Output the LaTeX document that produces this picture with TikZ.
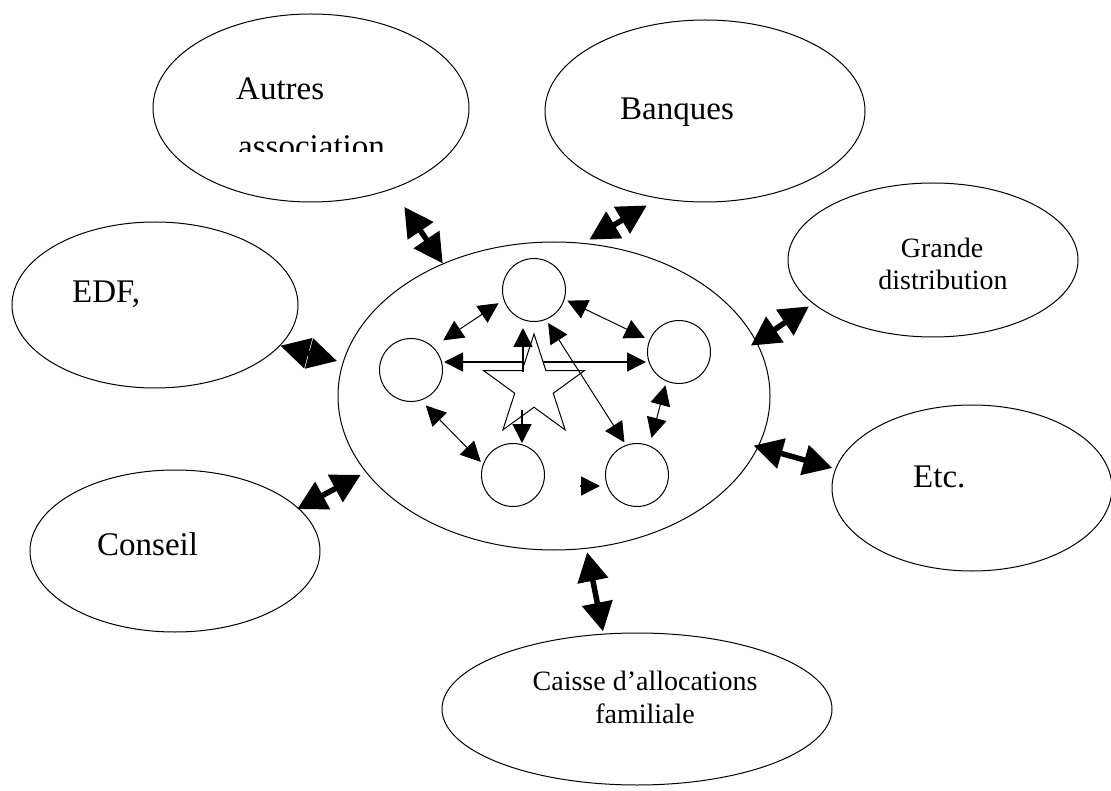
\documentclass[tikz,border=0pt]{standalone}
\usepackage{fontspec}
\setmainfont{Liberation Serif}
\usetikzlibrary{shapes.geometric,arrows.meta}

\begin{document}
\begin{tikzpicture}[x=1pt,y=-1pt,
  oval/.style={ellipse, draw, line width=1pt, inner sep=0pt},
  member/.style={circle, draw, line width=1pt, inner sep=0pt, minimum size=63pt},
  bigtext/.style={font=\fontsize{33}{38}\selectfont, inner sep=0pt},
  smalltext/.style={font=\fontsize{28}{33}\selectfont, inner sep=0pt, align=center},
  link/.style={line width=5.5pt, {Triangle[length=29pt,width=30pt]}-{Triangle[length=29pt,width=30pt]}},
  tie/.style={line width=1pt, {Triangle[length=20pt,width=20pt]}-{Triangle[length=20pt,width=20pt]}},
  ray/.style={line width=1.6pt, -{Triangle[length=19pt,width=19pt]}},
]
\useasboundingbox (0,0) rectangle (1111,791);

% central association and its partners
\node[oval, minimum width=432pt, minimum height=308pt] (core) at (554,396) {};
\node[oval, minimum width=316pt, minimum height=188pt] (autres) at (311,108) {};
\node[oval, minimum width=320pt, minimum height=182pt] (banques) at (705,111) {};
\node[oval, minimum width=290pt, minimum height=154pt] (grande) at (933,260) {};
\node[oval, minimum width=286pt, minimum height=166pt] (edf) at (155,305) {};
\node[oval, minimum width=290pt, minimum height=162pt] (conseil) at (175,551) {};
\node[oval, minimum width=280pt, minimum height=166pt] (etc) at (972,488) {};
\node[oval, minimum width=390pt, minimum height=152pt] (caf) at (637,709) {};

% labels
\node[bigtext, anchor=base west] (autrestxt) at (236,100) {Autres};
\begin{scope}
  \clip (150,120) rectangle (470,152);
  \node[bigtext, anchor=base west] (assoctxt) at (238,158) {association};
\end{scope}
\node[bigtext, anchor=base west] (banquestxt) at (620,120) {Banques};
\node[smalltext, anchor=base] (grandetxt) at (942,258) {Grande};
\node[smalltext, anchor=base] (disttxt) at (943,290) {distribution};
\node[bigtext, anchor=base west] (edftxt) at (72,303) {EDF,};
\node[bigtext, anchor=base west] (conseiltxt) at (97,555) {Conseil};
\node[bigtext, anchor=base west] (etctxt) at (913,487) {Etc.};
\node[smalltext, anchor=base] (caftxt1) at (645,690) {Caisse d’allocations};
\node[smalltext, anchor=base] (caftxt2) at (645,723) {familiale};

% members inside the association
\node[member] (m1) at (534,290) {};
\node[member] (m2) at (679,352) {};
\node[member] (m3) at (637,475) {};
\node[member] (m4) at (513,475) {};
\node[member] (m5) at (411,370) {};
\node[star, star points=5, star point ratio=2.618, minimum size=106pt,
      inner sep=0pt, draw, line width=1pt] (star) at (534,387) {};

% exchanges with the partners
\draw[link, shorten <=21.5pt] (autres.-45.4) -- (core.130.7);
\draw[link, shorten <=6.5pt, shorten >=13.5pt] (core.79.5) -- (banques.-118);
\draw[link, shorten <=-7pt, shorten >=4.8pt] (core.15.2) -- (grande.-160.7);
\draw[link, shorten >=5.8pt] (edf.-18.9) -- (core.171.5);
\draw[link, shorten <=-2pt, shorten >=5.5pt] (conseil.19.8) -- (core.-158.5);
\draw[link, shorten <=-5pt, shorten >=3pt] (core.-14.7) -- (etc.172.8);
\draw[link, shorten <=3.6pt, shorten >=2.3pt] (core.-78.8) -- (caf.114.8);

% exchanges between members
\draw[tie, shorten <=6pt, shorten >=12pt] (m1.198) -- (m5.46);
\draw[tie, shorten <=3pt, shorten >=5pt] (m1.-17) -- (m2.158);
\draw[tie, shorten <=7pt, shorten >=3pt] (m5.-72) -- (m4.160);
\draw[tie, shorten <=4pt, shorten >=8pt] (m2.-113) -- (m3.67);
\draw[tie, shorten <=4pt, shorten >=3pt] (m1.-68.5) -- (m3.110);

% rays from the star
\coordinate (hl) at (523,362);
\coordinate (hu) at (523,372);
\coordinate (hr) at (543,362);
\coordinate (hd) at (522,410);
\coordinate (loose) at (580,486);
\draw[ray, shorten >=1pt] (hl) -- (hl -| m5.east);
\draw[ray, shorten >=6pt] (hu) -- (hu |- m1.south);
\draw[ray, shorten >=1pt] (hr) -- (hr -| m2.west);
\draw[ray] (hd) -- (hd |- m4.north);
\draw[ray, shorten >=5pt] (loose) -- (loose -| m3.west);
\end{tikzpicture}
\end{document}
